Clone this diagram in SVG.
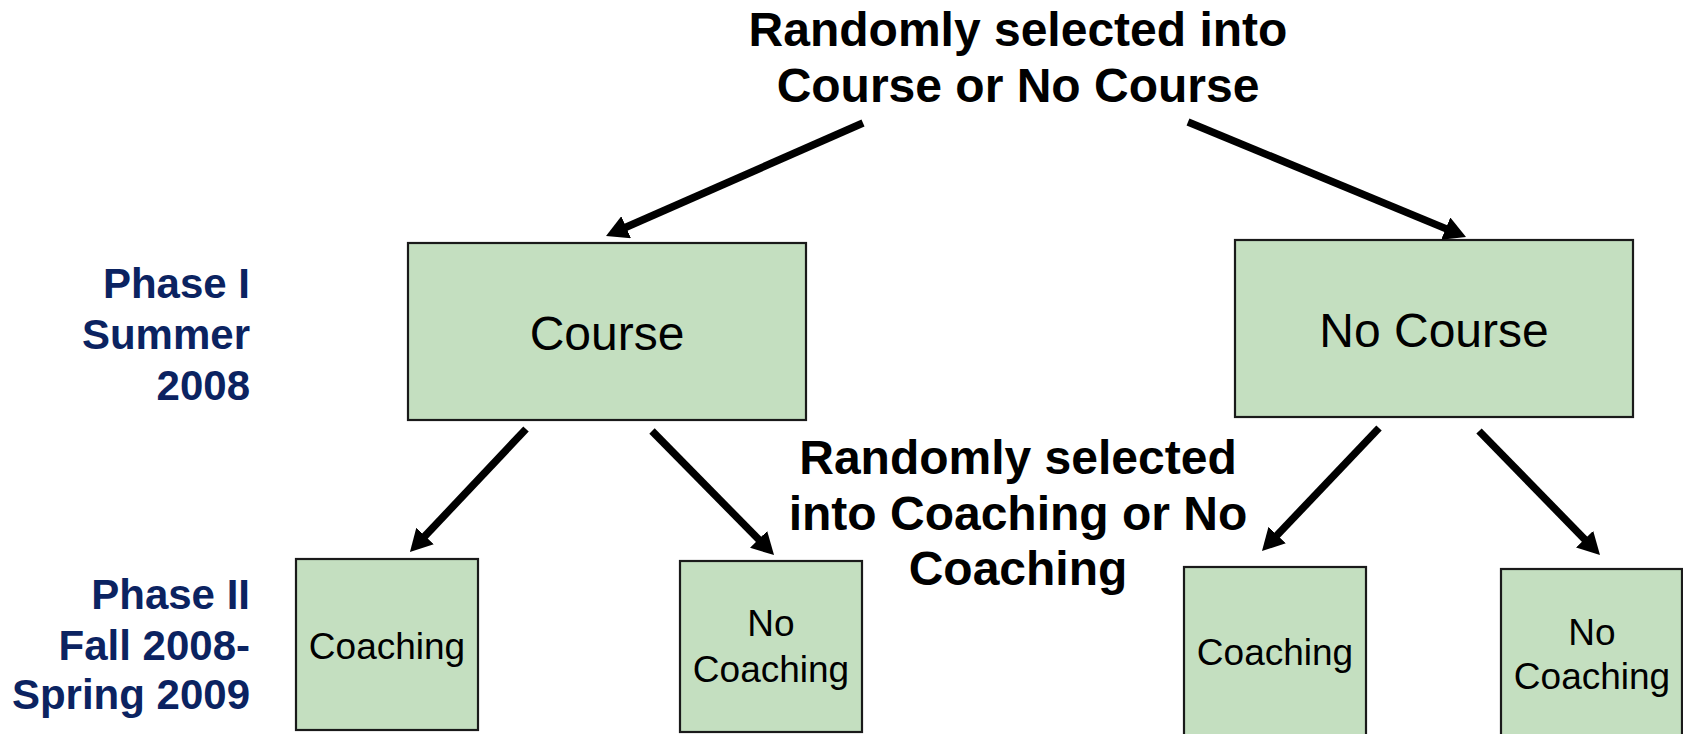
<svg xmlns="http://www.w3.org/2000/svg" width="1683" height="734" viewBox="0 0 1683 734">
<defs>
<style>
.box{fill:#c4dfc0;stroke:#1a1a1a;stroke-width:2.2}
.t{font-family:"Liberation Sans",Arial,sans-serif;fill:#000;text-anchor:middle}
.big{font-size:48px}
.small{font-size:37px}
.hd{font-family:"Liberation Sans",Arial,sans-serif;font-weight:bold;font-size:48px;fill:#000;text-anchor:middle}
.ph{font-family:"Liberation Sans",Arial,sans-serif;font-weight:bold;font-size:42px;fill:#0b2361;text-anchor:end}
.arr{stroke:#000;stroke-width:7.5;fill:none;marker-end:url(#ah)}
</style>
<marker id="ah" viewBox="0 0 22 24" refX="4" refY="12" markerWidth="22" markerHeight="24" markerUnits="userSpaceOnUse" orient="auto">
<path d="M0,0 L22,12 L0,24 z" fill="#000"/>
</marker>
</defs>
<rect width="1683" height="734" fill="#fff"/>
<g id="title">
<text class="hd" x="1018" y="46">Randomly selected into</text>
<text class="hd" x="1018" y="102">Course or No Course</text>
</g>
<g id="mid-label">
<text class="hd" x="1018" y="474">Randomly selected</text>
<text class="hd" x="1018" y="530">into Coaching or No</text>
<text class="hd" x="1018" y="585">Coaching</text>
</g>
<g id="phase1">
<text class="ph" x="250" y="298">Phase I</text>
<text class="ph" x="250" y="349">Summer</text>
<text class="ph" x="250" y="400">2008</text>
</g>
<g id="phase2">
<text class="ph" x="250" y="609">Phase II</text>
<text class="ph" x="250" y="660">Fall 2008-</text>
<text class="ph" x="250" y="709">Spring 2009</text>
</g>
<g id="course">
<rect class="box" x="408" y="243" width="398" height="177"/>
<text class="t big" x="607" y="350">Course</text>
</g>
<g id="no-course">
<rect class="box" x="1235" y="240" width="398" height="177"/>
<text class="t big" x="1434" y="347">No Course</text>
</g>
<g id="coaching-1">
<rect class="box" x="296" y="559" width="182" height="171"/>
<text class="t small" x="387" y="659">Coaching</text>
</g>
<g id="no-coaching-1">
<rect class="box" x="680" y="561" width="182" height="171"/>
<text class="t small" x="771" y="636">No</text>
<text class="t small" x="771" y="682">Coaching</text>
</g>
<g id="coaching-2">
<rect class="box" x="1184" y="567" width="182" height="180"/>
<text class="t small" x="1275" y="665">Coaching</text>
</g>
<g id="no-coaching-2">
<rect class="box" x="1501" y="569" width="181" height="180"/>
<text class="t small" x="1592" y="645">No</text>
<text class="t small" x="1592" y="689">Coaching</text>
</g>
<g id="connectors">
<line class="arr" x1="863" y1="123" x2="622.5" y2="228.8"/>
<line class="arr" x1="1188" y1="122" x2="1449.4" y2="230.1"/>
<line class="arr" x1="526" y1="429" x2="422.3" y2="538.9"/>
<line class="arr" x1="652" y1="431" x2="761.4" y2="542.2"/>
<line class="arr" x1="1379" y1="428" x2="1274.4" y2="538"/>
<line class="arr" x1="1479" y1="431" x2="1587.4" y2="542.1"/>
</g>
</svg>
